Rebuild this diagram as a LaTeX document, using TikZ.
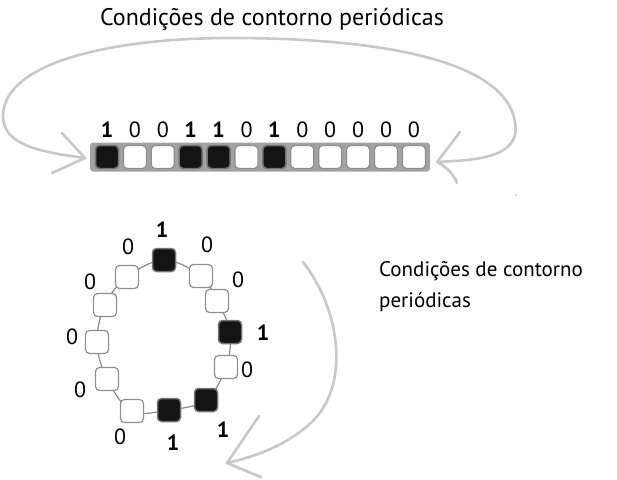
\documentclass[tikz,border=0pt]{standalone}
\usepackage{fontspec}
\setmainfont{PT Sans}
\definecolor{arcgray}{HTML}{C8C8C8}
\definecolor{cellgray}{HTML}{8E8E8E}
\definecolor{stripgray}{HTML}{A2A2A2}
\definecolor{cellblack}{HTML}{141414}
\definecolor{ringline}{HTML}{8A8A8A}
\begin{document}
\begin{tikzpicture}[x=1pt,y=-1pt,
  arcline/.style={draw=arcgray, line width=2.6pt, line cap=round, line join=round},
  wcell/.style={draw=cellgray, fill=white, rounded corners=4pt, minimum size=23pt, inner sep=0pt, line width=1.2pt},
  bcell/.style={draw=black!55, fill=cellblack, rounded corners=4pt, minimum size=23pt, inner sep=0pt, line width=1.5pt},
  lab/.style={font=\fontsize{22}{26}\selectfont, inner sep=0pt},
  txt/.style={font=\fontsize{21}{31}\selectfont, inner sep=0pt}]
\useasboundingbox (0,0) rectangle (617,479);

% title
\node[txt, font=\fontsize{24}{28}\selectfont, anchor=base] (title) at (272,25) {Condições de contorno periódicas};

% top periodic arc
\coordinate (ltip) at (85,158);
\coordinate (rtip) at (437,162);
\draw[arcline] (ltip) .. controls (40,152) and (2,145) .. (3,115)
  .. controls (5,60) and (120,38) .. (230,38)
  .. controls (380,38) and (505,60) .. (515,122)
  .. controls (522,160) and (470,160) .. (rtip);
\draw[arcline] (62,133) -- (ltip) -- (52,173);
\draw[arcline] (460,132) -- (rtip) .. controls (447,167) and (454,175) .. (457,183);
\fill[arcgray] (516,195) circle (1.1pt);

% strip of cells
\node[fill=stripgray, rounded corners=3pt, minimum width=340pt, minimum height=29pt, inner sep=0pt] (strip) at (260,157) {};
\foreach \v [count=\i] in {1,0,0,1,1,0,1,0,0,0,0,0} {
  \pgfmathsetmacro\xx{107+27.9*(\i-1)}
  \ifnum\v=1
    \node[bcell] (r\i) at (\xx,157) {};
    \node[lab, font=\fontsize{22}{26}\bfseries, anchor=base] (t\i) at (\xx,137) {1};
  \else
    \node[wcell] (r\i) at (\xx,157) {};
    \node[lab, anchor=base] (t\i) at (\xx,137) {0};
  \fi
}

% ring
\coordinate (c1) at (164,260);
\coordinate (c2) at (201,276);
\coordinate (c3) at (217,301);
\coordinate (c4) at (230,332);
\coordinate (c5) at (226,367);
\coordinate (c6) at (206,400);
\coordinate (c7) at (169,410);
\coordinate (c8) at (132,411);
\coordinate (c9) at (107,379);
\coordinate (c10) at (97,342);
\coordinate (c11) at (105,305);
\coordinate (c12) at (127,277);
\draw[ringline, line width=1.2pt] plot[smooth cycle, tension=0.6] coordinates {(c1) (c2) (c3) (c4) (c5) (c6) (c7) (c8) (c9) (c10) (c11) (c12)};
\foreach \i/\v in {1/1,2/0,3/0,4/1,5/0,6/1,7/1,8/0,9/0,10/0,11/0,12/0} {
  \ifnum\v=1
    \node[bcell] (q\i) at (c\i) {};
  \else
    \node[wcell] (q\i) at (c\i) {};
  \fi
}
\foreach \i/\v/\lx/\ly in {1/1/162/230, 2/0/207/245, 3/0/238/280, 4/1/263/333, 5/0/247/370, 6/1/223/430, 7/1/173/443, 8/0/120/437, 9/0/80/390, 10/0/72/337, 11/0/90/282, 12/0/128/247} {
  \ifnum\v=1
    \node[lab, font=\fontsize{22}{26}\bfseries] (ql\i) at (\lx,\ly) {1};
  \else
    \node[lab] (ql\i) at (\lx,\ly) {0};
  \fi
}

% ring arrow
\coordinate (btip) at (227,463);
\draw[arcline] (303,262) .. controls (342,312) and (352,392) .. (305,428)
  .. controls (285,444) and (262,455) .. (btip);
\draw[arcline] (259,416) -- (btip) -- (261,477);

% right text
\node[txt, anchor=base west, align=left] (rtext) at (379,307) {Condições de contorno\\periódicas};
\end{tikzpicture}
\end{document}
